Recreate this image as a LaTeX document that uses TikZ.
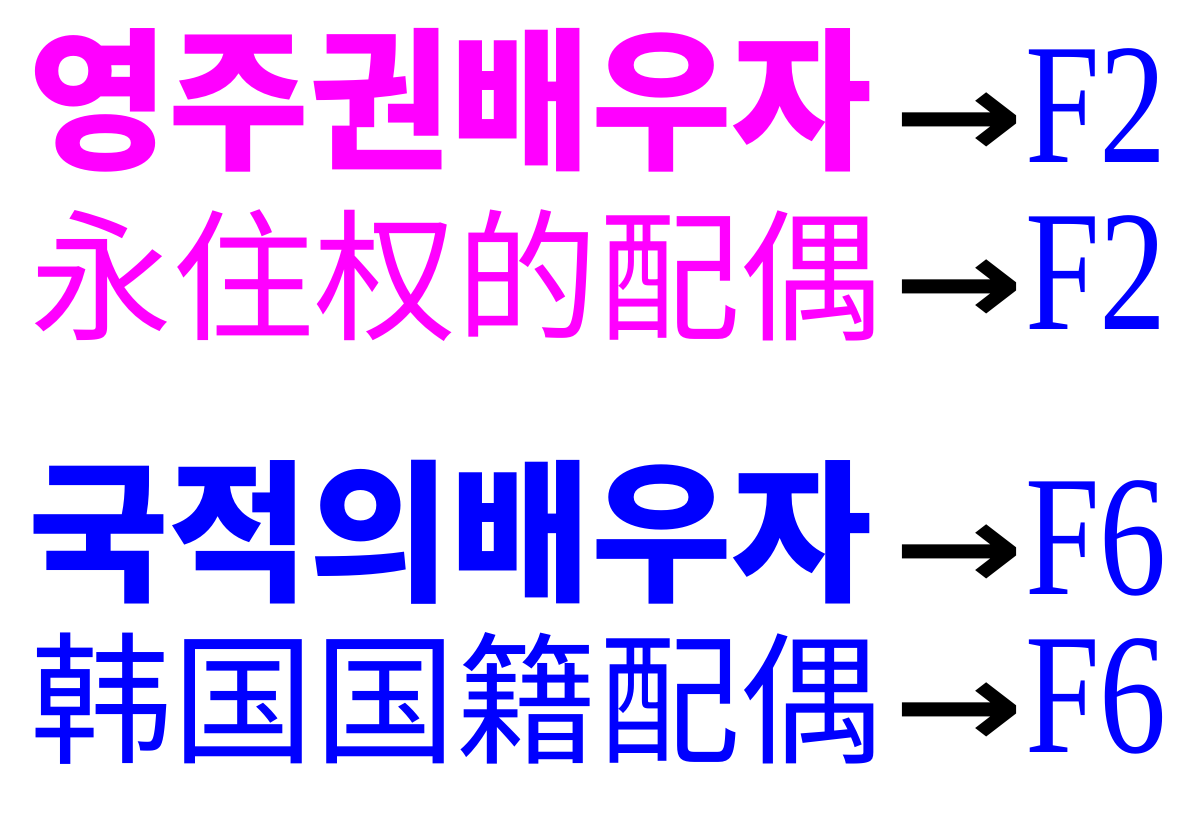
\documentclass[tikz,border=0pt]{standalone}
\usepackage{fontspec}
\newfontfamily\krf{Noto Sans CJK KR}
\newfontfamily\scf{Noto Sans CJK SC}
\newfontfamily\serf{Liberation Serif}
\newfontfamily\djf{DejaVu Sans}
\definecolor{mag}{RGB}{255,0,255}
\definecolor{blu}{RGB}{0,0,255}
\tikzset{t/.style={inner sep=0pt,anchor=base west},
 lat/.style={t,blu,font=\serf\fontsize{172}{172}\selectfont,xscale=0.78},
 arr/.style={t,black,font=\djf\bfseries\fontsize{120}{120}\selectfont,xscale=1.3}}
\begin{document}
\begin{tikzpicture}[x=1pt,y=1pt]
\useasboundingbox (0,0) rectangle (1194,836);
\node[t,mag,font=\krf\bfseries\fontsize{153}{153}\selectfont] (k1) at (28,836-158) {영주권배우자};
\node[arr] (a1) at (893,836-158) {→};
\node[lat] (f1) at (1025,836-163) {F2};
\node[t,mag,font=\scf\fontsize{142}{142}\selectfont] (c1) at (30,836-330) {永住权的配偶};
\node[arr] (a2) at (893,836-325) {→};
\node[lat] (f2) at (1025,836-330) {F2};
\node[t,blu,font=\krf\bfseries\fontsize{153}{153}\selectfont] (k2) at (28,836-590) {국적의배우자};
\node[arr] (a3) at (893,836-590) {→};
\node[lat] (f3) at (1025,836-595) {F6};
\node[t,blu,font=\scf\fontsize{142}{142}\selectfont] (c2) at (30,836-752) {韩国国籍配偶};
\node[arr] (a4) at (893,836-747) {→};
\node[lat] (f4) at (1025,836-752) {F6};
\end{tikzpicture}
\end{document}
